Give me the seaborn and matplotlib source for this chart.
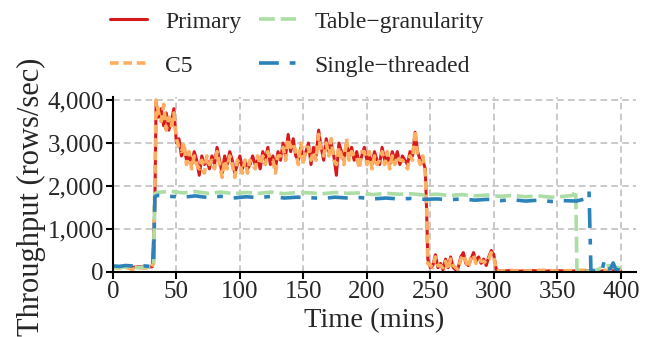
import pandas as pd
import seaborn as sns
import matplotlib.pyplot as plt

# DATA as (time in mins, rows/sec)
primary = [
    (0, 120), (4, 110), (8, 130), (12, 120), (16, 110), (20, 120), (24, 130), (28, 120),
    (31, 120), (33, 1500), (34, 3950), (36, 3600), (38, 3800), (40, 3400), (42, 3700),
    (44, 3300), (46, 3500), (48, 3800), (50, 3000), (52, 3100), (54, 2700), (56, 2900),
    (58, 2600), (60, 2700), (62, 2500), (64, 2800), (66, 2600), (68, 2250), (70, 2700),
    (72, 2500), (74, 2600), (76, 2400), (78, 2700), (80, 2500), (82, 2900), (84, 2600),
    (86, 2300), (88, 2700), (90, 2500), (92, 2800), (94, 2600), (96, 2300), (98, 2500),
    (100, 2700), (102, 2400), (104, 2600), (106, 2400), (108, 2500), (110, 2700),
    (112, 2500), (114, 2600), (116, 2400), (118, 2800), (120, 2600), (122, 2900),
    (124, 2500), (126, 2700), (128, 2400), (130, 2800), (132, 2600), (134, 3000),
    (136, 2700), (138, 3200), (140, 2800), (142, 3100), (144, 2700), (146, 2600),
    (148, 2900), (150, 2600), (152, 2800), (154, 3000), (156, 2500), (158, 2900),
    (160, 2700), (162, 3300), (164, 2900), (166, 2600), (168, 3100), (170, 2800),
    (172, 3000), (174, 2700), (176, 2250), (178, 3000), (180, 2800), (182, 2600),
    (184, 3000), (186, 2700), (188, 2900), (190, 2600), (192, 2800), (194, 2500),
    (196, 2700), (198, 2900), (200, 2600), (202, 2700), (204, 2500), (206, 2800),
    (208, 2600), (210, 2500), (212, 2900), (214, 2600), (216, 2700), (218, 2500),
    (220, 2800), (222, 2600), (224, 2800), (226, 2500), (228, 2700), (230, 2600),
    (232, 2500), (234, 2800), (236, 2700), (238, 3250), (240, 2800), (242, 2600),
    (244, 2600), (246, 2400), (247, 1500), (248, 300), (250, 100), (252, 150),
    (254, 400), (256, 100), (258, 200), (260, 50), (262, 300), (264, 100), (266, 350),
    (268, 100), (270, 50), (272, 100), (274, 350), (276, 450), (278, 200), (280, 150),
    (282, 300), (284, 450), (286, 250), (288, 350), (290, 200), (292, 300), (294, 150),
    (296, 350), (298, 500), (300, 400), (302, 50), (306, 20), (312, 30), (320, 20),
    (330, 30), (340, 20), (350, 30), (360, 20), (370, 30), (380, 20), (390, 30),
    (400, 20),
]

c5 = [
    (0, 100), (5, 90), (10, 110), (15, 60), (20, 100), (25, 90), (30, 100), (32, 200),
    (33, 2000), (34, 4000), (36, 3700), (38, 3500), (40, 3900), (42, 3300), (44, 3600),
    (46, 3400), (48, 3700), (50, 3100), (52, 2900), (54, 2800), (56, 3000), (58, 2500),
    (60, 2800), (62, 2400), (64, 2700), (66, 2500), (68, 2400), (70, 2600), (72, 2300),
    (74, 2700), (76, 2500), (78, 2600), (80, 2400), (82, 2800), (84, 2500), (86, 2200),
    (88, 2600), (90, 2400), (92, 2700), (94, 2500), (96, 2200), (98, 2600), (100, 2500),
    (102, 2300), (104, 2600), (106, 2300), (108, 2600), (110, 2500), (112, 2400),
    (114, 2700), (116, 2500), (118, 2700), (120, 2500), (122, 2800), (124, 2600),
    (126, 2600), (128, 2300), (130, 2700), (132, 2700), (134, 2900), (136, 2600),
    (138, 3100), (140, 2900), (142, 3000), (144, 2800), (146, 2500), (148, 3000),
    (150, 2500), (152, 2900), (154, 2900), (156, 2600), (158, 2800), (160, 2600),
    (162, 3200), (164, 2800), (166, 2700), (168, 3000), (170, 2700), (172, 3100),
    (174, 2600), (176, 2500), (178, 2900), (180, 2700), (182, 2500), (184, 3100),
    (186, 2600), (188, 2800), (190, 2700), (192, 2700), (194, 2400), (196, 2800),
    (198, 2800), (200, 2500), (202, 2800), (204, 2400), (206, 2700), (208, 2500),
    (210, 2600), (212, 2800), (214, 2500), (216, 2800), (218, 2400), (220, 2700),
    (222, 2500), (224, 2700), (226, 2600), (228, 2600), (230, 2500), (232, 2400),
    (234, 2700), (236, 2600), (238, 3300), (240, 2700), (242, 2500), (244, 2700),
    (246, 2300), (247, 1600), (248, 200), (250, 150), (252, 100), (254, 350),
    (256, 150), (258, 150), (260, 100), (262, 250), (264, 50), (266, 300), (268, 150),
    (270, 100), (272, 50), (274, 300), (276, 400), (278, 250), (280, 100), (282, 350),
    (284, 400), (286, 200), (288, 300), (290, 250), (292, 250), (294, 200), (296, 300),
    (298, 450), (300, 350), (302, 30), (306, 20), (312, 40), (320, 20), (330, 30),
    (340, 40), (350, 20), (360, 30), (370, 40), (380, 30), (390, 40), (400, 60),
]

table_gran = [
    (0, 110), (5, 100), (10, 120), (15, 110), (20, 100), (25, 120), (30, 110),
    (32, 150), (33, 1800), (35, 1850), (45, 1880), (55, 1840), (65, 1870), (75, 1830),
    (85, 1860), (95, 1820), (105, 1850), (115, 1830), (125, 1860), (135, 1820),
    (145, 1850), (155, 1840), (165, 1820), (175, 1850), (185, 1830), (195, 1840),
    (205, 1800), (215, 1830), (225, 1810), (235, 1820), (245, 1790), (255, 1810),
    (265, 1780), (275, 1800), (285, 1770), (295, 1790), (305, 1760), (315, 1780),
    (325, 1750), (335, 1770), (345, 1740), (355, 1760), (362, 1780), (364.5, 1900),
    (365.5, 20), (370, 10), (380, 30), (385, 100), (390, 150), (395, 120), (400, 80),
]

single_thr = [
    (0, 140), (5, 130), (10, 150), (15, 140), (20, 130), (25, 140), (30, 130),
    (32, 150), (33, 1750), (35, 1780), (45, 1760), (55, 1740), (65, 1770), (75, 1730),
    (85, 1760), (95, 1720), (105, 1750), (115, 1730), (125, 1760), (135, 1720),
    (145, 1740), (155, 1730), (165, 1710), (175, 1740), (185, 1720), (195, 1730),
    (205, 1700), (215, 1720), (225, 1700), (235, 1710), (245, 1690), (255, 1700),
    (265, 1680), (275, 1700), (285, 1670), (295, 1690), (305, 1660), (315, 1680),
    (325, 1650), (335, 1670), (345, 1640), (355, 1660), (365, 1650), (372, 1700),
    (375, 1880), (376.5, 20), (380, 40), (383, 80), (385, 30), (387, 250), (389, 60),
    (392, 80), (394, 210), (396, 60), (400, 40),
]

series = [
    ("Primary", primary, "#d7191c", "-", 2.2),
    ("C5", c5, "#fdae61", (0, (2.4, 1.3)), 2.6),
    ("Table\u2212granularity", table_gran, "#abdda4", (0, (4.4, 1.6)), 2.6),
    ("Single\u2212threaded", single_thr, "#2b83ba", (0, (5.5, 3.0, 1.6, 3.0)), 2.6),
]

sns.set_style("ticks")
plt.rcParams["font.family"] = ["Liberation Serif", "DejaVu Serif"]

fig = plt.figure(figsize=(6.49, 3.37), dpi=100)
ax = fig.add_axes([0.174, 0.193, 0.806, 0.519])

for name, pts, color, ls, lw in series:
    df = pd.DataFrame(pts, columns=["t", "v"])
    sns.lineplot(data=df, x="t", y="v", ax=ax, color=color, linestyle=ls,
                 linewidth=lw, label=name, legend=False, sort=False)

ax.set_xlim(0, 412)
ax.set_ylim(0, 4070)
ax.set_xticks(range(0, 401, 50))
ax.set_yticks(range(0, 4001, 1000))
ax.yaxis.set_major_formatter(plt.FuncFormatter(lambda x, p: f"{int(x):,}"))
ax.grid(True, color="#c0c0c0", linestyle=(0, (4, 2.5)), linewidth=1.2)
ax.set_axisbelow(True)
for s in ["top", "right"]:
    ax.spines[s].set_visible(False)
for s in ["left", "bottom"]:
    ax.spines[s].set_linewidth(1.5)
    ax.spines[s].set_color("black")
ax.tick_params(axis="both", direction="out", length=5, width=1.5,
               labelsize=18, pad=1.5, color="black")
ax.set_xlabel("Time (mins)", fontsize=20.5, labelpad=4)
ax.set_ylabel("Throughput (rows/sec)", fontsize=22)
ax.yaxis.set_label_coords(-0.128, 0.43)

handles, labels = ax.get_legend_handles_labels()
fig.legend(handles, labels, ncol=2, loc="upper left", bbox_to_anchor=(0.155, 0.995),
           borderaxespad=0, frameon=False, fontsize=17, handlelength=1.57,
           columnspacing=0.76, handletextpad=0.76, labelspacing=0.95)

plt.savefig("out.png", dpi=100)
